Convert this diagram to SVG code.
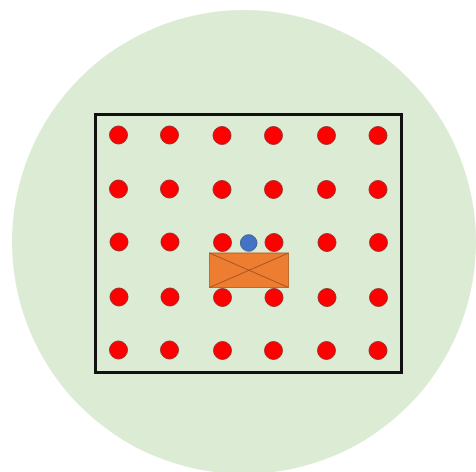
<svg xmlns="http://www.w3.org/2000/svg" width="476" height="472" viewBox="0 0 476 472">
<style>
.dot{fill:#FF0000;stroke:#8B1A1A;stroke-width:0.8}
.bg{fill:#DCEBD4}
.frame{fill:none;stroke:#111;stroke-width:3}
.box{fill:#ED7D31;stroke:#B05A22;stroke-width:0.8}
.xline{stroke:#9C5020;stroke-width:0.9}
.blue{fill:#4472C4;stroke:#2F528F;stroke-width:0.8}
</style>
<rect width="476" height="472" fill="#fff"/>
<g id="field"><circle class="bg" cx="244" cy="242" r="232"/></g>
<g id="frame"><rect class="frame" x="95.5" y="114.5" width="306" height="258"/></g>
<g id="dots">
<circle class="dot" cx="118.5" cy="135" r="9"/><circle class="dot" cx="169.5" cy="135" r="9"/><circle class="dot" cx="222" cy="135.5" r="9"/><circle class="dot" cx="273.5" cy="135.5" r="9"/><circle class="dot" cx="326.5" cy="135.5" r="9"/><circle class="dot" cx="378" cy="135.5" r="9"/>
<circle class="dot" cx="118.5" cy="189" r="9"/><circle class="dot" cx="169.5" cy="189" r="9"/><circle class="dot" cx="222" cy="189.5" r="9"/><circle class="dot" cx="273.5" cy="189.5" r="9"/><circle class="dot" cx="326.5" cy="189.5" r="9"/><circle class="dot" cx="378" cy="189.5" r="9"/>
<circle class="dot" cx="119" cy="242" r="9"/><circle class="dot" cx="170" cy="242" r="9"/><circle class="dot" cx="222.5" cy="242.5" r="9"/><circle class="dot" cx="274" cy="242.5" r="9"/><circle class="dot" cx="327" cy="242.5" r="9"/><circle class="dot" cx="378.5" cy="242.5" r="9"/>
<circle class="dot" cx="119" cy="297" r="9"/><circle class="dot" cx="170" cy="297" r="9"/><circle class="dot" cx="222.5" cy="297.5" r="9"/><circle class="dot" cx="274" cy="297.5" r="9"/><circle class="dot" cx="327" cy="297.5" r="9"/><circle class="dot" cx="378.5" cy="297.5" r="9"/>
<circle class="dot" cx="118.5" cy="350" r="9"/><circle class="dot" cx="169.5" cy="350" r="9"/><circle class="dot" cx="222.5" cy="350.5" r="9"/><circle class="dot" cx="273.5" cy="350.5" r="9"/><circle class="dot" cx="326.5" cy="350.5" r="9"/><circle class="dot" cx="378" cy="350.5" r="9"/>
</g>
<g id="box">
<rect class="box" x="209.5" y="253" width="79" height="34.5"/>
<line class="xline" x1="209.5" y1="253" x2="288.5" y2="287.5"/>
<line class="xline" x1="209.5" y1="287.5" x2="288.5" y2="253"/>
</g>
<g id="blue"><circle class="blue" cx="248.7" cy="243" r="8.3"/></g>
</svg>
